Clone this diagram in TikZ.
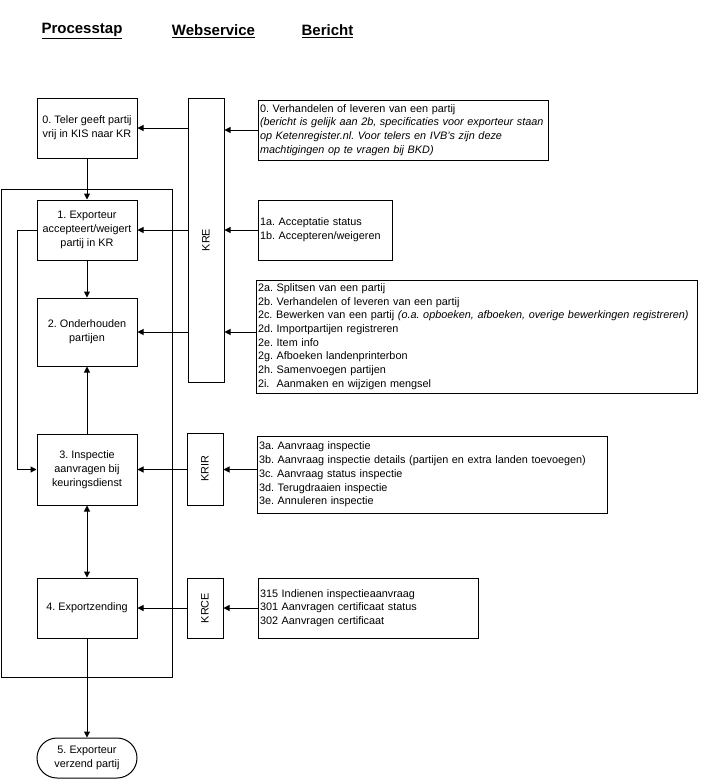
\documentclass[tikz,border=0pt]{standalone}
\usepackage{fontspec}
\setmainfont{Liberation Sans}
\usetikzlibrary{arrows.meta}
\begin{document}
\begin{tikzpicture}[x=1pt, y=-1pt, line width=1pt,
  >={Triangle[length=6pt,width=6pt]},
  font=\fontsize{10.85}{13.7}\selectfont\frenchspacing,
  kop/.style={font=\fontsize{15}{18}\selectfont\bfseries},
  stap/.style={draw, minimum width=100pt, inner sep=1pt, align=center},
  dienst/.style={draw, minimum width=36pt, inner sep=0pt},
  bericht/.style={draw, inner sep=2pt, align=left}]
\useasboundingbox (0,0) rectangle (708,779);

\node[kop] (k1) at (82,31) {\underline{Processtap}};
\node[kop] (k2) at (213.5,31) {\underline{Webservice}};
\node[kop] (k3) at (327.5,31) {\underline{Bericht}};

\node[draw, minimum width=171pt, minimum height=488pt] (kader) at (86.5,433) {};

\node[stap, minimum height=60pt] (b0) at (87,128) {0. Teler geeft partij\\vrij in KIS naar KR};
\node[stap, minimum height=60pt] (b1) at (87,230) {1. Exporteur\\accepteert/weigert\\partij in KR};
\node[stap, minimum height=68pt] (b2) at (87,332) {2. Onderhouden\\partijen};
\node[stap, minimum height=71pt] (b3) at (87,469.5) {3. Inspectie\\aanvragen bij\\keuringsdienst};
\node[stap, minimum height=60pt] (b4) at (87,608) {4. Exportzending};
\node[stap, minimum height=40pt, rounded corners=20pt] (b5) at (87,758) {5. Exporteur\\verzend partij};

\node[dienst, minimum height=284pt] (kre) at (206,240) {\rotatebox{90}{KRE}};
\node[dienst, minimum height=72pt] (krir) at (205,469) {\rotatebox{90}{KRIR}};
\node[dienst, minimum height=60pt] (krce) at (205,608) {\rotatebox{90}{KRCE}};

\node[bericht, text width=286pt, minimum height=60pt] (m0) at (403,130) {0. Verhandelen of leveren van een partij\\\mbox{\itshape (bericht is gelijk aan 2b, specificaties voor exporteur staan}\\\itshape op Ketenregister.nl. Voor telers en IVB's zijn deze\\\itshape machtigingen op te vragen bij BKD)};
\node[bericht, text width=130pt, minimum height=60pt] (m1) at (325,230) {1a. Acceptatie status\\1b. Accepteren/weigeren};
\node[bericht, text width=437pt, minimum height=113pt] (m2) at (476.5,336.5) {2a. Splitsen van een partij\\2b. Verhandelen of leveren van een partij\\2c. Bewerken van een partij \textit{(o.a. opboeken, afboeken, overige bewerkingen registreren)}\\2d. Importpartijen registreren\\2e. Item info\\2g. Afboeken landenprinterbon\\2h. Samenvoegen partijen\\2i.\ \ Aanmaken en wijzigen mengsel};
\node[bericht, text width=346pt, minimum height=77pt] (m3) at (432,474.5) {3a. Aanvraag inspectie\\3b. Aanvraag inspectie details (partijen en extra landen toevoegen)\\3c. Aanvraag status inspectie\\3d. Terugdraaien inspectie\\3e. Annuleren inspectie};
\node[bericht, text width=216pt, minimum height=60pt] (m4) at (368,608) {315 Indienen inspectieaanvraag\\301 Aanvragen certificaat status\\302 Aanvragen certificaat};

\draw[->] (b0) -- (b1);
\draw[->] (b1) -- (b2);
\draw[->] (b3) -- (b2);
\draw[<->] (b3) -- (b4);
\draw[->] (b4) -- (b5);
\draw[->] (b1.west) -- ++(-19,0) |- (b3.west);

\draw[->] (kre.west |- b0) -- (b0.east);
\draw[->] (kre.west |- b1) -- (b1.east);
\draw[->] (kre.west |- b2) -- (b2.east);
\draw[->] (krir.west |- b3) -- (b3.east);
\draw[->] (krce.west |- b4) -- (b4.east);

\draw[->] (m0.west) -- (kre.east |- m0.west);
\draw[->] (m1.west) -- (kre.east |- m1.west);
\draw[->] (m2.west |- b2) -- (kre.east |- b2);
\draw[->] (m3.west |- b3) -- (krir.east |- b3);
\draw[->] (m4.west) -- (krce.east |- m4.west);
\end{tikzpicture}
\end{document}
